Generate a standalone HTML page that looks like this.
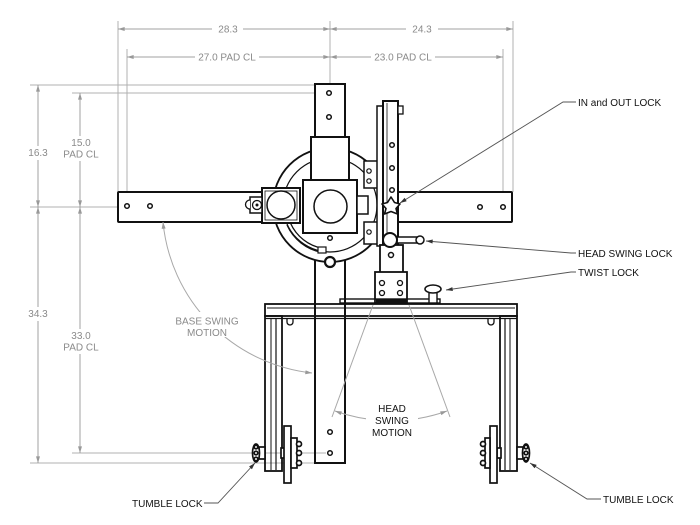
<!DOCTYPE html>
<html><head><meta charset="utf-8"><style>
html,body{margin:0;padding:0;background:#fff;}
svg{display:block;}
text{font-family:"Liberation Sans",Arial,sans-serif;font-size:10px;}
.d{fill:#8a8a8a;}
.k{fill:#111;}
</style></head><body>
<svg width="700" height="525" viewBox="0 0 700 525" xmlns="http://www.w3.org/2000/svg">
<defs>
<marker id="g" viewBox="0 0 10 6" refX="10" refY="3" markerWidth="9" markerHeight="4" markerUnits="userSpaceOnUse" orient="auto-start-reverse"><path d="M0,0L10,3L0,6z" fill="#999"/></marker>
<marker id="b" viewBox="0 0 10 6" refX="10" refY="3" markerWidth="9" markerHeight="4" markerUnits="userSpaceOnUse" orient="auto"><path d="M0,0L10,3L0,6z" fill="#333"/></marker>
</defs>

<!-- dimension extension lines -->
<g stroke="#b0b0b0" stroke-width="1" fill="none">
<line x1="118" y1="21" x2="118" y2="192"/>
<line x1="127" y1="49" x2="127" y2="203"/>
<line x1="330" y1="21" x2="330" y2="84"/>
<line x1="513" y1="21" x2="513" y2="192"/>
<line x1="503" y1="49" x2="503" y2="203"/>
<line x1="30" y1="85" x2="315" y2="85"/>
<line x1="72" y1="93" x2="324" y2="93"/>
<line x1="30" y1="207" x2="122" y2="207"/>
<line x1="72" y1="453" x2="326" y2="453"/>
<line x1="30" y1="463" x2="326" y2="463"/>
</g>
<!-- dimension lines -->
<g stroke="#a0a0a0" stroke-width="1" fill="none" marker-start="url(#g)" marker-end="url(#g)">
<line x1="118" y1="29" x2="330" y2="29"/>
<line x1="330" y1="29" x2="513" y2="29"/>
<line x1="127" y1="57" x2="330" y2="57"/>
<line x1="330" y1="57" x2="503" y2="57"/>
<line x1="38" y1="85" x2="38" y2="207"/>
<line x1="38" y1="207" x2="38" y2="463"/>
<line x1="80" y1="93" x2="80" y2="207"/>
<line x1="80" y1="207" x2="80" y2="453"/>
</g>
<g fill="#fff">
<rect x="212" y="22" width="31" height="14"/>
<rect x="406" y="22" width="32" height="14"/>
<rect x="195" y="50" width="64" height="14"/>
<rect x="371" y="50" width="64" height="14"/>
<rect x="25" y="146" width="26" height="14"/>
<rect x="25" y="307" width="26" height="14"/>
<rect x="62" y="136" width="38" height="25"/>
<rect x="62" y="329" width="38" height="25"/>
</g>
<g class="d" text-anchor="middle">
<text x="228" y="32.5">28.3</text>
<text x="422" y="32.5">24.3</text>
<text x="227" y="60.5">27.0 PAD CL</text>
<text x="403" y="60.5">23.0 PAD CL</text>
<text x="38" y="156">16.3</text>
<text x="38" y="317">34.3</text>
<text x="81" y="146">15.0</text>
<text x="81" y="157.5">PAD CL</text>
<text x="81" y="339">33.0</text>
<text x="81" y="350.5">PAD CL</text>
</g>

<!-- column lower -->
<rect x="315" y="230" width="30" height="233" fill="none" stroke="#111" stroke-width="2"/>

<!-- arm -->
<rect x="118" y="192" width="394" height="30" fill="#fff" stroke="#111" stroke-width="2" rx="1"/>

<!-- disc -->
<circle cx="330" cy="205" r="57" fill="#fff" stroke="#111" stroke-width="1.8"/>
<circle cx="330" cy="205" r="47" fill="none" stroke="#111" stroke-width="1.2"/>
<path d="M322.4,248.3 A43.5,43.5 0 0 1 290.6,223.4" fill="none" stroke="#111" stroke-width="1.3"/>
<path d="M321.7,252.3 A47.5,47.5 0 0 1 287,225" fill="none" stroke="#111" stroke-width="1.3"/>
<rect x="318" y="247" width="8" height="6" fill="#fff" stroke="#111" stroke-width="1.2"/>
<circle cx="330" cy="262" r="5" fill="#fff" stroke="#111" stroke-width="2.2"/>

<!-- column upper + box -->
<rect x="315" y="84" width="30" height="54" fill="#fff" stroke="#111" stroke-width="2"/>
<rect x="311" y="137" width="38" height="44" fill="#fff" stroke="#111" stroke-width="2"/>
<rect x="303" y="180" width="54" height="53" fill="#fff" stroke="#111" stroke-width="2"/>
<circle cx="330.5" cy="206.5" r="16.5" fill="#fff" stroke="#111" stroke-width="1.5"/>

<!-- motor block -->
<rect x="262" y="188" width="38" height="35" fill="#fff" stroke="#111" stroke-width="2"/>
<rect x="265" y="191" width="32" height="29" fill="none" stroke="#111" stroke-width="0.8"/>
<circle cx="281" cy="205" r="14" fill="#fff" stroke="#111" stroke-width="1.5"/>
<rect x="250" y="197" width="12" height="16" fill="#fff" stroke="#111" stroke-width="1.5"/>
<path d="M250,200 A4,4 0 0 0 250,209" fill="#fff" stroke="#111" stroke-width="1.3"/>
<circle cx="257" cy="205" r="4.5" fill="#fff" stroke="#111" stroke-width="1.3"/>
<circle cx="257" cy="205" r="1.5" fill="#111"/>

<!-- right side brackets -->
<rect x="357" y="196" width="11" height="18" fill="#fff" stroke="#111" stroke-width="1.5"/>
<rect x="364" y="161" width="16" height="27" fill="#fff" stroke="#111" stroke-width="1.5"/>
<rect x="364" y="222" width="16" height="22" fill="#fff" stroke="#111" stroke-width="1.5"/>
<circle cx="369" cy="171" r="2.2" fill="none" stroke="#111" stroke-width="1.2"/>
<circle cx="369" cy="181" r="2.2" fill="none" stroke="#111" stroke-width="1.2"/>
<circle cx="369" cy="232" r="2.2" fill="none" stroke="#111" stroke-width="1.2"/>

<!-- rail -->
<rect x="377" y="106" width="6" height="140" fill="#fff" stroke="#111" stroke-width="1.5"/>
<rect x="383" y="101" width="15" height="146" fill="#fff" stroke="#111" stroke-width="2"/>
<line x1="387" y1="103" x2="387" y2="245" stroke="#111" stroke-width="0.8"/>
<rect x="398" y="106" width="5" height="8" fill="#fff" stroke="#111" stroke-width="1.3"/>

<!-- post -->
<rect x="380" y="245" width="23" height="30" fill="#fff" stroke="#111" stroke-width="1.8"/>
<rect x="375" y="272" width="32" height="31" fill="#fff" stroke="#111" stroke-width="1.8"/>
<rect x="340" y="299" width="100" height="4" fill="none" stroke="#111" stroke-width="1.4"/>
<rect x="376" y="299" width="31" height="5" fill="#111"/>
<g fill="#fff" stroke="#111" stroke-width="1.3">
<circle cx="382" cy="283" r="2.5"/><circle cx="382" cy="293" r="2.5"/>
<circle cx="400" cy="283" r="2.5"/><circle cx="400" cy="293" r="2.5"/>
</g>

<!-- head swing lock -->
<rect x="397" y="237" width="20" height="6" fill="#fff" stroke="#111" stroke-width="1.5"/>
<circle cx="420" cy="240" r="4" fill="#fff" stroke="#111" stroke-width="1.5"/>
<circle cx="390" cy="240" r="7" fill="#fff" stroke="#111" stroke-width="2"/>

<!-- star knob -->
<path d="M391,197 L394.5,202.5 L400,204 L396,208.5 L397.5,214 L391,211.5 L384.5,214 L386,208.5 L382,204 L387.5,202.5 Z" fill="#fff" stroke="#111" stroke-width="1.6" stroke-linejoin="round"/>

<!-- twist lock -->
<rect x="429" y="292" width="8" height="11" fill="#fff" stroke="#111" stroke-width="1.4"/>
<ellipse cx="433" cy="289" rx="8" ry="4" fill="#fff" stroke="#111" stroke-width="1.6"/>

<!-- table -->
<g fill="none" stroke="#111">
<rect x="265" y="304" width="252" height="12" stroke-width="1.8"/>
<line x1="267" y1="308" x2="515" y2="308" stroke-width="1"/>
<line x1="265" y1="318.5" x2="517" y2="318.5" stroke-width="1.2"/>
<rect x="265" y="316" width="17" height="155" stroke-width="1.8"/>
<line x1="271" y1="318" x2="271" y2="470" stroke-width="1"/>
<line x1="276" y1="318" x2="276" y2="470" stroke-width="1.2"/>
<rect x="500" y="316" width="17" height="155" stroke-width="1.8"/>
<line x1="505" y1="318" x2="505" y2="470" stroke-width="1.2"/>
<line x1="510" y1="318" x2="510" y2="470" stroke-width="1"/>
<path d="M287,319 v3 a3,3 0 0 0 6,0 v-3" stroke-width="1.3"/>
<path d="M488,319 v3 a3,3 0 0 0 6,0 v-3" stroke-width="1.3"/>
</g>

<!-- holes -->
<g fill="#fff" stroke="#111" stroke-width="1.5">
<circle cx="127" cy="206" r="2.3"/><circle cx="150" cy="206" r="2.3"/>
<circle cx="480" cy="207" r="2.3"/><circle cx="503" cy="207" r="2.3"/>
<circle cx="329" cy="93" r="2.3"/><circle cx="329" cy="117" r="2.3"/>
<circle cx="330" cy="238" r="2.3"/>
<circle cx="392" cy="145" r="2.3"/><circle cx="392" cy="168" r="2.3"/><circle cx="392" cy="190" r="2.3"/>
<circle cx="391" cy="255" r="2.5"/>
<circle cx="330" cy="432" r="2.3"/><circle cx="330" cy="453" r="2.3"/>
</g>

<!-- left wheel -->
<g fill="#fff" stroke="#111" stroke-width="1.7">
<rect x="281" y="448" width="4" height="10"/>
<rect x="284" y="426" width="7" height="57"/>
<rect x="291" y="438" width="6" height="30"/>
<circle cx="299" cy="444" r="2.5"/><circle cx="299" cy="453" r="2.5"/><circle cx="299" cy="463" r="2.5"/>
<rect x="259" y="447" width="6" height="12"/>
<ellipse cx="256" cy="453" rx="3.5" ry="9"/>
<circle cx="256" cy="447" r="1.8"/><circle cx="256" cy="453" r="1.8"/><circle cx="256" cy="459" r="1.8"/>
</g>
<!-- right wheel -->
<g fill="#fff" stroke="#111" stroke-width="1.7">
<rect x="497" y="448" width="4" height="10"/>
<rect x="490" y="426" width="7" height="57"/>
<rect x="485" y="438" width="5" height="30"/>
<circle cx="483" cy="444" r="2.5"/><circle cx="483" cy="453" r="2.5"/><circle cx="483" cy="463" r="2.5"/>
<rect x="517" y="447" width="6" height="12"/>
<ellipse cx="526" cy="453" rx="3.5" ry="9"/>
<circle cx="526" cy="447" r="1.8"/><circle cx="526" cy="453" r="1.8"/><circle cx="526" cy="459" r="1.8"/>
</g>

<!-- base swing motion -->
<path d="M312,373 A168,168 0 0 1 163,222" fill="none" stroke="#a8a8a8" stroke-width="1" marker-start="url(#g)" marker-end="url(#g)"/>
<rect x="174" y="312" width="68" height="25" fill="#fff"/>
<text class="d" x="207" y="324.5" text-anchor="middle">BASE SWING</text>
<text class="d" x="207" y="336" text-anchor="middle">MOTION</text>

<!-- head swing motion -->
<g stroke="#a8a8a8" stroke-width="1" fill="none">
<line x1="373" y1="305" x2="332" y2="417"/>
<line x1="409" y1="305" x2="450" y2="417"/>
<path d="M335,411 A166,166 0 0 0 447,411" marker-start="url(#g)" marker-end="url(#g)"/>
</g>
<rect x="366" y="400" width="52" height="37" fill="#fff"/>
<g class="k" text-anchor="middle" font-size="10">
<text x="392" y="412">HEAD</text>
<text x="392" y="424">SWING</text>
<text x="392" y="436">MOTION</text>
</g>

<!-- callouts -->
<g stroke="#555" stroke-width="0.9" fill="none" marker-end="url(#b)">
<polyline points="576,102 563,102 400,203"/>
<polyline points="576,253 571,253 426,241"/>
<polyline points="576,272 571,272 446,290"/>
<polyline points="204,503 218,503 255,463"/>
<polyline points="601,499 587,499 530,463"/>
</g>
<g class="k">
<text x="578" y="106">IN and OUT LOCK</text>
<text x="578" y="257">HEAD SWING LOCK</text>
<text x="578" y="276">TWIST LOCK</text>
<text x="132" y="507">TUMBLE LOCK</text>
<text x="603" y="503">TUMBLE LOCK</text>
</g>
</svg>
</body></html>
